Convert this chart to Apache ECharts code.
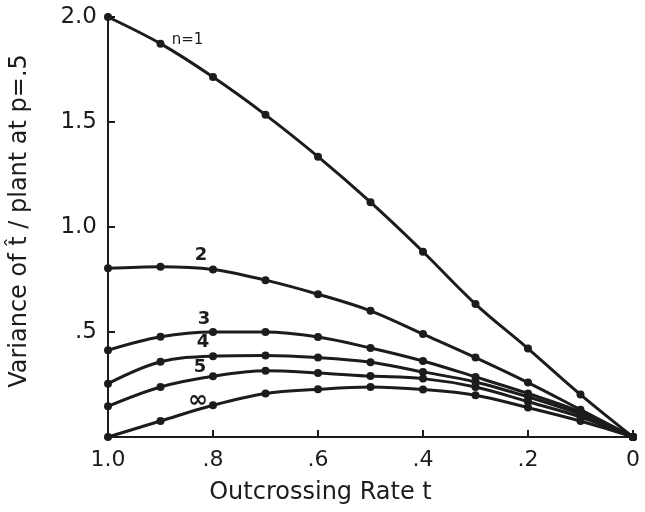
<!DOCTYPE html>
<html>
<head>
<meta charset="utf-8">
<script src="https://cdn.jsdelivr.net/npm/echarts@6/dist/echarts.min.js"></script>
<style>
  html, body { margin: 0; padding: 0; background: #fff; }
  #chart { width: 645px; height: 512px; }
</style>
</head>
<body>
<div id="chart"></div>
<script>
'use strict';

// outcrossing rate t, read left (1.0) to right (0)
var tValues = [1.0, 0.9, 0.8, 0.7, 0.6, 0.5, 0.4, 0.3, 0.2, 0.1, 0.0];

// variance of t-hat per plant, one list per n
var n1 = [2.0, 1.873, 1.714, 1.534, 1.335, 1.118, 0.882, 0.633, 0.421, 0.202, 0];
var n2 = [0.803, 0.811, 0.798, 0.747, 0.680, 0.601, 0.490, 0.378, 0.259, 0.130, 0];
var n3 = [0.413, 0.477, 0.500, 0.500, 0.476, 0.424, 0.362, 0.286, 0.207, 0.119, 0];
var n4 = [0.254, 0.358, 0.385, 0.388, 0.378, 0.356, 0.310, 0.262, 0.191, 0.108, 0];
var n5 = [0.146, 0.238, 0.289, 0.315, 0.305, 0.290, 0.278, 0.238, 0.168, 0.095, 0];
var n8 = [0.0, 0.076, 0.151, 0.207, 0.227, 0.238, 0.226, 0.199, 0.140, 0.076, 0];

var curveNames = ['n=1', '2', '3', '4', '5', '∞'];
var curves = [n1, n2, n3, n4, n5, n8];

var xTicks = ['0', '.2', '.4', '.6', '.8', '1.0'];
var yTicks = ['', '.5', '1.0', '1.5', '2.0'];

var ink = '#1c1c1c';
var font = 'DejaVu Sans';

// where each curve's number sits, relative to a chosen point
var labelSpots = [
  { idx: 1, offset: [27, -4], size: 15, weight: 'normal' },
  { idx: 2, offset: [-12, -14], size: 18, weight: 'bold' },
  { idx: 2, offset: [-9, -13], size: 18, weight: 'bold' },
  { idx: 2, offset: [-10, -14], size: 18, weight: 'bold' },
  { idx: 2, offset: [-13, -9], size: 18, weight: 'bold' },
  { idx: 2, offset: [-15, -5], size: 24, weight: 'bold' }
];

function buildSeries(values, k) {
  var spot = labelSpots[k];
  var data = values.map(function (v, i) {
    var item = { value: [tValues[i], v] };
    if (i === spot.idx) {
      item.label = {
        show: true,
        formatter: curveNames[k],
        position: 'inside',
        offset: spot.offset,
        color: ink,
        fontFamily: font,
        fontWeight: spot.weight,
        fontSize: spot.size
      };
    }
    return item;
  });
  return {
    name: curveNames[k],
    type: 'line',
    smooth: 0.35,
    data: data,
    symbol: 'circle',
    symbolSize: 8,
    itemStyle: { color: ink },
    lineStyle: { color: ink, width: 3 },
    z: 2
  };
}

var chart = echarts.init(document.getElementById('chart'));
chart.setOption({
  animation: false,
  backgroundColor: '#fff',
  grid: { left: 107, right: 12, top: 17, bottom: 75 },
  xAxis: {
    type: 'value',
    inverse: true,
    min: 0,
    max: 1,
    interval: 0.2,
    name: 'Outcrossing Rate t',
    nameLocation: 'middle',
    nameGap: 44,
    nameTextStyle: { color: ink, fontFamily: font, fontSize: 24, padding: [0, 100, 0, 0] },
    axisLine: { lineStyle: { color: ink, width: 2 } },
    axisTick: { inside: true, length: 7, lineStyle: { color: ink, width: 2 } },
    axisLabel: {
      color: ink,
      fontFamily: font,
      fontSize: 22,
      margin: 12,
      formatter: function (v) { return xTicks[Math.round(v * 5)]; }
    },
    splitLine: { show: false }
  },
  yAxis: {
    type: 'value',
    position: 'left',
    min: 0,
    max: 2,
    interval: 0.5,
    name: 'Variance of t\u0302 / plant at p=.5',
    nameLocation: 'middle',
    nameGap: 76,
    nameTextStyle: { color: ink, fontFamily: font, fontSize: 24, padding: [0, 0, 0, 12] },
    axisLine: { show: true, onZero: false, lineStyle: { color: ink, width: 2 } },
    axisTick: { show: true, inside: true, length: 7, lineStyle: { color: ink, width: 2 } },
    axisLabel: {
      color: ink,
      fontFamily: font,
      fontSize: 23,
      margin: 11,
      formatter: function (v) { return yTicks[Math.round(v * 2)]; }
    },
    splitLine: { show: false }
  },
  series: curves.map(buildSeries)
});
</script>
</body>
</html>
